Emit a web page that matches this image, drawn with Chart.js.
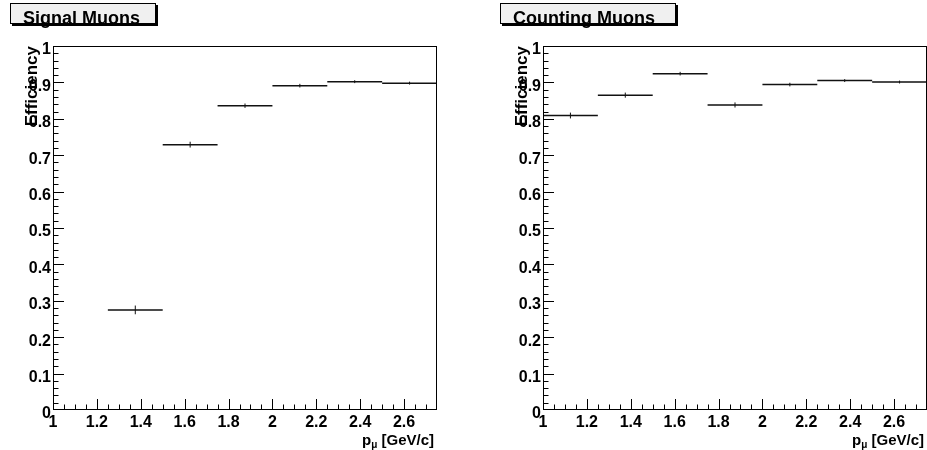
<!DOCTYPE html>
<html lang="en">
<head>
  <meta charset="UTF-8">
  <title>Muon efficiency</title>
  <script src="https://cdn.jsdelivr.net/npm/chart.js"></script>
  <style>
    body { margin: 0; background: #fff; width: 927px; height: 450px; overflow: hidden; position: relative; }
    canvas { position: absolute; top: 0; }
    #grafico1 { left: 0; }
    #grafico2 { left: 490px; }
    .caixa { position: absolute; top: 3px; height: 21px; box-sizing: border-box; border: 1px solid #000; background: #f0f0f0; box-shadow: 2px 2px 0 #000; }
    .titulo { position: absolute; top: 9px; font: bold 18px/18px "Liberation Sans", Arial, sans-serif; color: #000; white-space: nowrap; }
    .eixo_x { position: absolute; top: 432px; font: bold 15px/16px "Liberation Sans", Arial, sans-serif; color: #000; text-align: right; white-space: nowrap; }
    .eixo_x sub { font-size: 10px; line-height: 0; vertical-align: -3px; }
  </style>
</head>
<body>
  <canvas id="grafico1" width="490" height="450"></canvas>
  <canvas id="grafico2" width="437" height="450"></canvas>

  <div class="caixa" style="left: 10px; width: 146px;"></div>
  <div class="titulo" style="left: 23px;">Signal Muons</div>
  <div class="caixa" style="left: 500px; width: 176px;"></div>
  <div class="titulo" style="left: 513px;">Counting Muons</div>

  <div class="eixo_x" style="left: 0; width: 434px;">p<sub>μ</sub> [GeV/c]</div>
  <div class="eixo_x" style="left: 490px; width: 434px;">p<sub>μ</sub> [GeV/c]</div>

  <script>
    // bins in p (GeV/c), efficiency per bin
    var binEdges = [1.0, 1.25, 1.5, 1.75, 2.0, 2.25, 2.5, 2.75]
    var signalEff = [null, 0.275, 0.729, 0.836, 0.891, 0.902, 0.898]
    var signalErr = [null, 0.012, 0.008, 0.006, 0.005, 0.004, 0.004]
    var countingEff = [0.809, 0.865, 0.924, 0.838, 0.894, 0.905, 0.901]
    var countingErr = [0.008, 0.007, 0.005, 0.007, 0.005, 0.004, 0.004]

    var xTicks = [1, 1.2, 1.4, 1.6, 1.8, 2, 2.2, 2.4, 2.6]
    var yTicks = [0, 0.1, 0.2, 0.3, 0.4, 0.5, 0.6, 0.7, 0.8, 0.9, 1]

    var fonte = "'Liberation Sans', Arial, sans-serif"

    // horizontal line over each bin, gap between bins
    function binLines(eff) {
      var pts = []
      for (var i = 0; i < eff.length; i++) {
        if (eff[i] === null) continue
        pts.push({x: binEdges[i], y: eff[i]})
        pts.push({x: binEdges[i + 1], y: eff[i]})
        pts.push({x: binEdges[i + 1], y: null})
      }
      return pts
    }

    // vertical error bar at bin centre
    function errorLines(eff, err) {
      var pts = []
      for (var i = 0; i < eff.length; i++) {
        if (eff[i] === null) continue
        var c = (binEdges[i] + binEdges[i + 1]) / 2
        pts.push({x: c, y: eff[i] - err[i]})
        pts.push({x: c, y: eff[i] + err[i]})
        pts.push({x: c, y: null})
      }
      return pts
    }

    // ROOT style frame with ticks pointing inside
    var frameTicks = {
      id: 'frameTicks',
      afterDatasetsDraw: function(chart) {
        var ctx = chart.ctx
        var a = chart.chartArea
        var xs = chart.scales.x
        var ys = chart.scales.y
        ctx.save()
        ctx.strokeStyle = '#000'
        ctx.lineWidth = 1
        ctx.beginPath()
        for (var i = 0; i <= 50; i++) {
          var py = Math.round(ys.getPixelForValue(i * 0.02)) + 0.5
          py = Math.min(Math.max(py, a.top + 0.5), a.bottom - 0.5)
          var len = i % 5 == 0 ? 11 : 5.5
          ctx.moveTo(a.left, py)
          ctx.lineTo(a.left + len, py)
        }
        for (var j = 0; j < 35; j++) {
          var px = Math.round(xs.getPixelForValue(1 + j * 0.05)) + 0.5
          var len2 = j % 4 == 0 ? 11 : 5.5
          ctx.moveTo(px, a.bottom)
          ctx.lineTo(px, a.bottom - len2)
        }
        ctx.stroke()
        ctx.strokeRect(a.left + 0.5, a.top + 0.5, a.right - a.left - 1, a.bottom - a.top - 1)
        ctx.restore()
      }
    }

    function makeChart(id, eff, err, padRight) {
      new Chart(document.getElementById(id), {
        type: 'line',
        data: {
          datasets: [
            { data: binLines(eff), borderColor: '#111', borderWidth: 1.5, pointRadius: 0, spanGaps: false },
            { data: errorLines(eff, err), borderColor: '#111', borderWidth: 1, pointRadius: 0, spanGaps: false }
          ]
        },
        options: {
          responsive: false,
          animation: false,
          devicePixelRatio: 1,
          layout: { padding: { left: 0, top: 46, right: padRight, bottom: 0 } },
          plugins: { legend: { display: false }, tooltip: { enabled: false } },
          scales: {
            x: {
              type: 'linear', min: 1, max: 2.75,
              afterFit: function(s) { s.height = 40 },
              afterBuildTicks: function(s) { s.ticks = xTicks.map(function(v) { return {value: v} }) },
              grid: { display: false, drawTicks: false },
              border: { display: false },
              ticks: { padding: 3, color: '#000', maxRotation: 0, autoSkip: false,
                       font: { family: fonte, size: 16, weight: 'bold' },
                       callback: function(v) { return '' + v } }
            },
            y: {
              type: 'linear', min: 0, max: 1,
              afterFit: function(s) { s.width = 53 },
              afterBuildTicks: function(s) { s.ticks = yTicks.map(function(v) { return {value: v} }) },
              grid: { display: false, drawTicks: false },
              border: { display: false },
              ticks: { padding: 2, labelOffset: 4, color: '#000', autoSkip: false,
                       font: { family: fonte, size: 16, weight: 'bold' },
                       callback: function(v) { return '' + v } },
              title: { display: true, text: 'Efficiency', align: 'end', color: '#000',
                       padding: { top: 22, bottom: 0 },
                       font: { family: fonte, size: 17, weight: 'bold' } }
            }
          }
        },
        plugins: [frameTicks]
      })
    }

    makeChart('grafico1', signalEff, signalErr, 53)
    makeChart('grafico2', countingEff, countingErr, 0)
  </script>
</body>
</html>
